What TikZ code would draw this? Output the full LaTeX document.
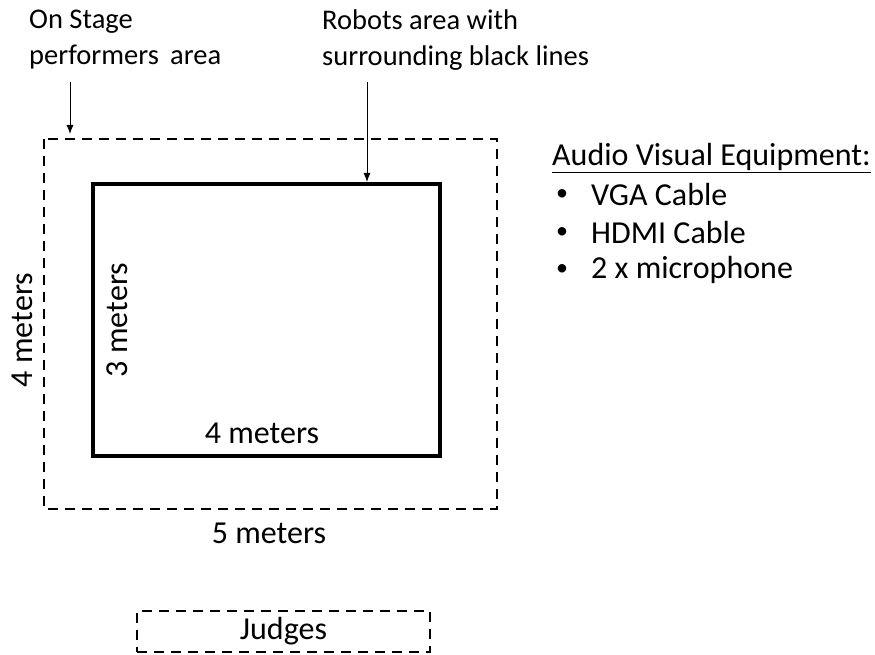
\documentclass[tikz,border=0pt]{standalone}
\usepackage{fontspec}
\setmainfont{Carlito}
\usetikzlibrary{arrows.meta}

\tikzset{
  lbl/.style={inner sep=0pt, font=\fontsize{32}{38}\selectfont},
  toplbl/.style={inner sep=0pt, align=left, font=\fontsize{28.5}{35.5}\selectfont},
  dot/.style={inner sep=0pt, font=\fontsize{24}{28}\selectfont},
  area/.style={draw, line width=2pt, dash pattern=on 10pt off 7pt},
  robot/.style={draw, line width=4pt},
  pointer/.style={-{Latex[length=9pt,width=7pt]}, line width=1pt}
}

\begin{document}
\begin{tikzpicture}[x=1pt,y=-1pt]
    \useasboundingbox (0,0) rectangle (875,655);

    % stage areas
    \draw[area] (44,139) rectangle (497,509);
    \draw[robot] (93,184) rectangle (440,456);
    \node[area, minimum width=293pt, minimum height=41pt, inner sep=0pt] (judges) at (283.5,631.5) {};
    \node[lbl] (judgestxt) at (judges.center) {Judges};

    % top labels
    \node[toplbl, anchor=north west] (stage) at (29,10) {On Stage\\performers\, area};
    \node[toplbl, anchor=north west] (robots) at (322,10) {Robots area with\\surrounding black lines};
    \coordinate (stagetip) at (70,134);
    \coordinate (robotstip) at (367,182);
    \draw[pointer] (70,82) -- (stagetip);
    \draw[pointer] (367,82) -- (robotstip);

    % dimensions
    \node[lbl, rotate=90] (outerh) at (22,330) {4 meters};
    \node[lbl, rotate=90] (innerh) at (117,320) {3 meters};
    \node[lbl] (innerw) at (262,433) {4 meters};
    \node[lbl] (outerw) at (269,533) {5 meters};

    % equipment list
    \node[lbl, anchor=west] (av) at (552,158) {\underline{Audio Visual Equipment:}};
    \node[dot] (b1) at (562,195) {\textbullet};
    \node[lbl, anchor=west] (vga) at (591,195) {VGA Cable};
    \node[dot] (b2) at (562,233) {\textbullet};
    \node[lbl, anchor=west] (hdmi) at (591,233) {HDMI Cable};
    \node[dot] (b3) at (562,270) {\textbullet};
    \node[lbl, anchor=west] (mic) at (591,270) {2 x microphone};
\end{tikzpicture}
\end{document}
